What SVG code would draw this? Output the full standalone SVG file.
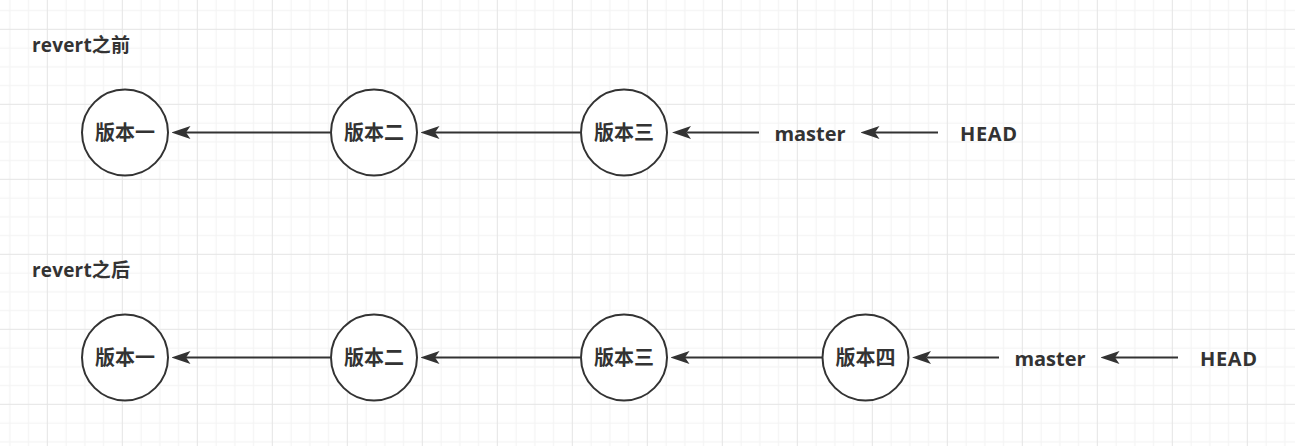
<svg xmlns="http://www.w3.org/2000/svg" width="1295" height="446" viewBox="0 0 1295 446">
  <style>
    .node circle { fill: #ffffff; stroke: #333333; stroke-width: 2; }
    .lbl { font-family: "Open Sans", "Liberation Sans", "Noto Sans CJK SC", sans-serif; font-weight: bold; font-size: 20px; fill: #333333; text-anchor: middle; }
    .cjk { font-family: "Noto Sans CJK SC", "Noto Sans CJK JP", sans-serif; font-weight: bold; font-size: 20px; fill: #333333; text-anchor: middle; }
    .title { font-family: "Open Sans", "Liberation Sans", "Noto Sans CJK SC", sans-serif; font-weight: bold; font-size: 19px; fill: #333333; }
    .edge { stroke: #333333; stroke-width: 2; fill: none; marker-end: url(#arrow); }
  </style>
  <defs>
    <pattern id="grid" patternUnits="userSpaceOnUse" x="46.8" y="28.8" width="75" height="75">
      <rect x="18.75" y="0" width="1" height="75" fill="#f2f2f2"/>
      <rect x="37.5" y="0" width="1" height="75" fill="#f2f2f2"/>
      <rect x="56.25" y="0" width="1" height="75" fill="#f2f2f2"/>
      <rect x="0" y="18.75" width="75" height="1" fill="#f2f2f2"/>
      <rect x="0" y="37.5" width="75" height="1" fill="#f2f2f2"/>
      <rect x="0" y="56.25" width="75" height="1" fill="#f2f2f2"/>
      <rect x="0" y="0" width="1" height="75" fill="#e4e4e4"/>
      <rect x="0" y="0" width="75" height="1" fill="#e4e4e4"/>
    </pattern>
    <marker id="arrow" markerUnits="userSpaceOnUse" viewBox="0 0 19 13" refX="4.5" refY="6.5" markerWidth="19" markerHeight="13" orient="auto">
      <path d="M0,0 L19,6.5 L0,13 L4.5,6.5 Z" fill="#333333"/>
    </marker>
  </defs>
  <rect x="0" y="0" width="1295" height="446" fill="#ffffff"/>
  <rect x="0" y="0" width="1295" height="446" fill="url(#grid)"/>

  <g id="connectors">
    <line class="edge" x1="330" y1="132.5" x2="186" y2="132.5"/>
    <line class="edge" x1="580" y1="132.5" x2="435" y2="132.5"/>
    <line class="edge" x1="759" y1="132.5" x2="686.5" y2="132.5"/>
    <line class="edge" x1="938" y1="132.5" x2="875" y2="132.5"/>

    <line class="edge" x1="330" y1="357.5" x2="186" y2="357.5"/>
    <line class="edge" x1="580" y1="357.5" x2="435" y2="357.5"/>
    <line class="edge" x1="822" y1="357.5" x2="685" y2="357.5"/>
    <line class="edge" x1="999" y1="357.5" x2="926.5" y2="357.5"/>
    <line class="edge" x1="1178" y1="357.5" x2="1115" y2="357.5"/>
  </g>

  <g id="title-before">
    <text class="title" x="32" y="52" textLength="98" lengthAdjust="spacing">revert之前</text>
  </g>
  <g id="title-after">
    <text class="title" x="32" y="277" textLength="98" lengthAdjust="spacing">revert之后</text>
  </g>

  <g id="before-v1" class="node">
    <circle cx="125" cy="132.5" r="43"/>
    <text class="cjk" x="125" y="139.5">版本一</text>
  </g>
  <g id="before-v2" class="node">
    <circle cx="374" cy="132.5" r="43"/>
    <text class="cjk" x="374" y="139.5">版本二</text>
  </g>
  <g id="before-v3" class="node">
    <circle cx="624" cy="132.5" r="43"/>
    <text class="cjk" x="624" y="139.5">版本三</text>
  </g>
  <g id="before-master">
    <text class="lbl" x="810" y="141">master</text>
  </g>
  <g id="before-head">
    <text class="lbl" x="988.5" y="141" textLength="57" lengthAdjust="spacing">HEAD</text>
  </g>

  <g id="after-v1" class="node">
    <circle cx="125" cy="357.5" r="43"/>
    <text class="cjk" x="125" y="364.5">版本一</text>
  </g>
  <g id="after-v2" class="node">
    <circle cx="374" cy="357.5" r="43"/>
    <text class="cjk" x="374" y="364.5">版本二</text>
  </g>
  <g id="after-v3" class="node">
    <circle cx="624" cy="357.5" r="43"/>
    <text class="cjk" x="624" y="364.5">版本三</text>
  </g>
  <g id="after-v4" class="node">
    <circle cx="865.5" cy="357.5" r="43"/>
    <text class="cjk" x="865.5" y="364.5">版本四</text>
  </g>
  <g id="after-master">
    <text class="lbl" x="1050" y="366">master</text>
  </g>
  <g id="after-head">
    <text class="lbl" x="1228.5" y="366" textLength="57" lengthAdjust="spacing">HEAD</text>
  </g>
</svg>
